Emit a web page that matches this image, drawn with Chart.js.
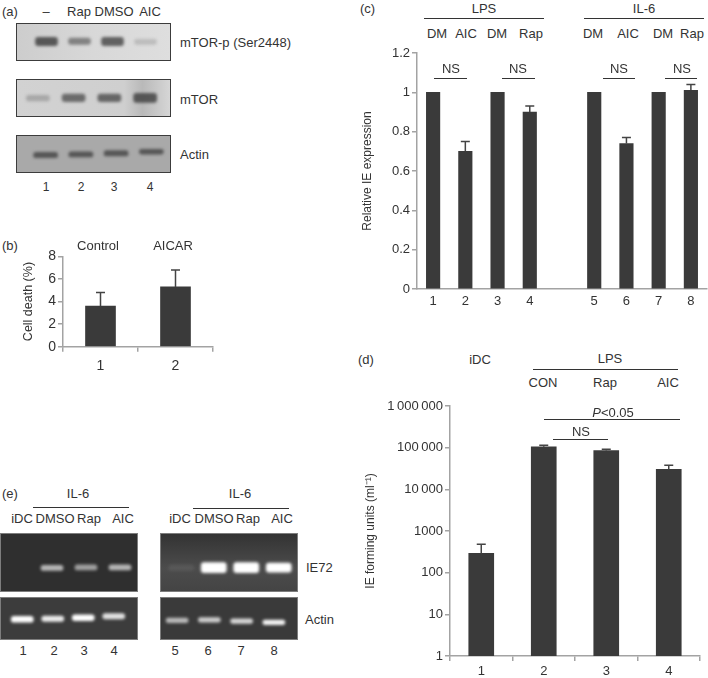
<!DOCTYPE html>
<html>
<head>
<meta charset="utf-8">
<script src="https://cdn.jsdelivr.net/npm/chart.js@4"></script>
<style>
  html, body { margin: 0; background: #fff; }
  #page { position: relative; width: 708px; height: 678px; overflow: hidden; font-family: "Liberation Sans", Arial, sans-serif; color: #333; }
  .t { position: absolute; font-size: 13px; white-space: nowrap; transform: translate(-50%, -50%); line-height: 1; }
  .l { transform: translate(0, -50%); }
  .rule { position: absolute; height: 1.3px; background: #333; }
  .plot { position: absolute; }
  .blot { position: absolute; box-sizing: border-box; overflow: hidden; }
  .blot canvas { filter: blur(1.5px); }
</style>
</head>
<body>
<div id="page"></div>
<script>
// Panel (b)
const bLabels = ['1', '2'];
const bValues = [3.6, 5.3];
const bErrTops = [4.8, 6.8];

// Panel (c)
const cLabels = ['1', '2', '3', '4', '', '5', '6', '7', '8'];
const cValues = [1, 0.7, 1, 0.9, null, 1, 0.74, 1, 1.01];
const cErrTops = [null, 0.75, null, 0.93, null, null, 0.77, null, 1.04];

// Panel (d)
const dLabels = ['1', '2', '3', '4'];
const dValues = [290, 105000, 85000, 30000];
const dErrTops = [480, 115000, 92000, 38000];
const dTickValues = [1, 10, 100, 1000, 10000, 100000, 1000000];
const dTickLabels = ['1', '10', '100', '1000', '10\u2009000', '100\u2009000', '1\u2009000\u2009000'];

// Blots: band extent (% of blot height from top) and band strength per lane
const lanes = ['1', '2', '3', '4'];
const mtorPBands = [[38, 62], [40, 58], [38, 62], [44, 58]];
const mtorPStrength = [0.75, 0.5, 0.7, 0.18];
const mtorBands = [[44, 60], [40, 62], [40, 62], [38, 64]];
const mtorStrength = [0.25, 0.62, 0.65, 0.72];
const actinABands = [[47, 62], [45, 60], [42, 57], [38, 52]];
const actinAStrength = [0.7, 0.7, 0.7, 0.7];
const ie72LeftBands = [[55, 63], [55, 64], [54, 63], [54, 63]];
const ie72LeftStrength = [0, 0.72, 0.6, 0.72];
const actinLeftBands = [[45, 59], [44, 57], [41, 55], [38, 51]];
const actinLeftStrength = [1, 0.9, 1, 0.85];
const ie72RightBands = [[54, 64], [50, 68], [50, 68], [51, 67]];
const ie72RightStrength = [0.07, 1, 1, 1];
const actinRightBands = [[49, 60], [48, 59], [51, 62], [54, 65]];
const actinRightStrength = [0.65, 0.75, 0.8, 0.95];

const page = document.getElementById('page');
const AXIS = '#a3a3a3';
const BAR = '#3a3a3a';
const FONT = 'Liberation Sans';

function text(str, x, y, opts = {}) {
    const el = document.createElement('div');
    el.className = 't' + (opts.left ? ' l' : '');
    el.style.left = x + 'px';
    el.style.top = y + 'px';
    if (opts.size) el.style.fontSize = opts.size + 'px';
    if (opts.html) el.innerHTML = str; else el.textContent = str;
    page.appendChild(el);
}

function rule(x1, x2, y) {
    const el = document.createElement('div');
    el.className = 'rule';
    el.style.left = x1 + 'px';
    el.style.width = (x2 - x1) + 'px';
    el.style.top = y + 'px';
    page.appendChild(el);
}

// error bars go up from the bar top, read from dataset.errTops
const errorBars = {
    id: 'errorBars',
    afterDatasetsDraw(chart) {
        const ds = chart.data.datasets[0];
        if (!ds.errTops) return;
        const ctx = chart.ctx;
        const y = chart.scales.y;
        ctx.save();
        ctx.strokeStyle = ds.errColor || '#444';
        ctx.lineWidth = 1.5;
        chart.getDatasetMeta(0).data.forEach((bar, i) => {
            if (ds.errTops[i] === null) return;
            const top = y.getPixelForValue(ds.errTops[i]);
            const bottom = y.getPixelForValue(ds.data[i]);
            ctx.beginPath();
            ctx.moveTo(bar.x, bottom);
            ctx.lineTo(bar.x, top);
            ctx.moveTo(bar.x - ds.errCap, top);
            ctx.lineTo(bar.x + ds.errCap, top);
            ctx.stroke();
        });
        ctx.restore();
    }
};

function barChart(cfg) {
    const wrap = document.createElement('div');
    wrap.className = 'plot';
    wrap.style.cssText = `left:${cfg.left}px;top:${cfg.top}px;width:${cfg.width}px;height:${cfg.height}px`;
    const canvas = document.createElement('canvas');
    canvas.width = cfg.width;
    canvas.height = cfg.height;
    wrap.appendChild(canvas);
    page.appendChild(wrap);

    const yScale = Object.assign({
        border: { color: AXIS, width: 1.5 },
        grid: { drawOnChartArea: false, color: AXIS, tickLength: 5, lineWidth: 1.5 },
        ticks: { color: '#333', font: { family: FONT, size: cfg.tickSize }, padding: 2, callback: v => String(v) },
        title: { display: true, text: cfg.yTitle, color: '#333', font: { family: FONT, size: cfg.titleSize }, padding: 0 },
        afterFit: s => { s.width = cfg.yWidth; }
    }, cfg.y);

    new Chart(canvas, {
        type: 'bar',
        data: {
            labels: cfg.labels,
            datasets: [{
                data: cfg.values,
                errTops: cfg.errTops,
                errCap: cfg.errCap,
                backgroundColor: BAR,
                barThickness: cfg.barWidth
            }]
        },
        options: {
            responsive: false,
            animation: false,
            layout: { padding: { top: 10, right: cfg.padRight } },
            plugins: { legend: { display: false }, tooltip: { enabled: false } },
            scales: {
                x: {
                    border: { color: AXIS, width: 1.5 },
                    grid: { drawOnChartArea: false, drawTicks: cfg.xTicks, color: AXIS, tickLength: 5, lineWidth: 1.5 },
                    ticks: { color: '#333', font: { family: FONT, size: cfg.tickSize }, padding: cfg.xPad, maxRotation: 0, autoSkip: false },
                    afterFit: s => { s.height = cfg.xHeight; }
                },
                y: yScale
            }
        },
        plugins: [errorBars]
    });
}

function blot(cfg) {
    const wrap = document.createElement('div');
    wrap.className = 'blot';
    wrap.style.cssText = `left:${cfg.left}px;top:${cfg.top}px;width:${cfg.width}px;height:${cfg.height}px;background:${cfg.bg};border:${cfg.border}`;
    const inner = cfg.width - cfg.borderWidth * 2;
    const innerH = cfg.height - cfg.borderWidth * 2;
    const canvas = document.createElement('canvas');
    canvas.width = inner;
    canvas.height = innerH;
    wrap.appendChild(canvas);
    page.appendChild(wrap);

    new Chart(canvas, {
        type: 'bar',
        data: {
            labels: lanes,
            datasets: [{
                data: cfg.bands,
                backgroundColor: cfg.strength.map(a => `rgba(${cfg.rgb},${a})`),
                barThickness: cfg.bandWidth,
                borderSkipped: false,
                borderRadius: 3
            }]
        },
        options: {
            responsive: false,
            animation: false,
            layout: { padding: { left: cfg.padL, right: cfg.padR } },
            plugins: { legend: { display: false }, tooltip: { enabled: false } },
            scales: {
                x: { display: false },
                y: { display: false, reverse: true, min: 0, max: 100 }
            }
        }
    });
}

// ---- (a) western blots
const westBorder = '1.5px solid #3c3c3c';
blot({ left: 16, top: 23, width: 155, height: 38, bg: 'linear-gradient(90deg,#cdcdcd,#d8d8d8 50%,#dedede)', border: westBorder, borderWidth: 1.5, rgb: '45,45,45', bandWidth: 22, padL: 13, padR: 7, bands: mtorPBands, strength: mtorPStrength });
blot({ left: 16, top: 79, width: 155, height: 38, bg: 'linear-gradient(90deg,#d2d2d2,#cfcfcf 70%,#b9b9b9 82%,#d6d6d6)', border: westBorder, borderWidth: 1.5, rgb: '45,45,45', bandWidth: 23, padL: 3, padR: 6, bands: mtorBands, strength: mtorStrength });
blot({ left: 16, top: 135, width: 155, height: 38, bg: '#a9a9a9', border: westBorder, borderWidth: 1.5, rgb: '50,50,50', bandWidth: 24, padL: 11, padR: 0, bands: actinABands, strength: actinAStrength });

// ---- (e) gels
const gelBorder = '1px solid #7d7d7d';
blot({ left: 0, top: 533, width: 138, height: 59, bg: '#2f2f2f', border: gelBorder, borderWidth: 1, rgb: '235,235,235', bandWidth: 22, padL: 0, padR: 0, bands: ie72LeftBands, strength: ie72LeftStrength });
blot({ left: 0, top: 597, width: 138, height: 43, bg: '#3c3c3c', border: gelBorder, borderWidth: 1, rgb: '255,255,255', bandWidth: 22, padL: 6, padR: 8, bands: actinLeftBands, strength: actinLeftStrength });
blot({ left: 160, top: 533, width: 138, height: 59, bg: 'linear-gradient(180deg,#333,#4c4c4c 60%,#444)', border: gelBorder, borderWidth: 1, rgb: '255,255,255', bandWidth: 25, padL: 4, padR: 2, bands: ie72RightBands, strength: ie72RightStrength });
blot({ left: 160, top: 597, width: 138, height: 43, bg: '#3a3a3a', border: gelBorder, borderWidth: 1, rgb: '255,255,255', bandWidth: 22, padL: 0, padR: 7, bands: actinRightBands, strength: actinRightStrength });

// ---- (b)
barChart({
    left: 21, top: 246, width: 195, height: 125,
    yWidth: 42, xHeight: 24.3, padRight: 3, xPad: 6, xTicks: true,
    labels: bLabels, values: bValues, errTops: bErrTops, errCap: 4.5, barWidth: 30,
    tickSize: 14, titleSize: 12.5, yTitle: 'Cell death (%)',
    y: { min: 0, max: 8 }
});

// ---- (c)
barChart({
    left: 360, top: 43, width: 348, height: 276,
    yWidth: 57, xHeight: 30, padRight: 1, xPad: 5, xTicks: false,
    labels: cLabels, values: cValues, errTops: cErrTops, errCap: 4.5, barWidth: 13.5,
    tickSize: 13, titleSize: 12, yTitle: 'Relative IE expression',
    y: { min: 0, max: 1.2 }
});

// ---- (d)
barChart({
    left: 363, top: 396, width: 341, height: 282,
    yWidth: 87, xHeight: 22, padRight: 4, xPad: 3, xTicks: true,
    labels: dLabels, values: dValues, errTops: dErrTops, errCap: 4.5, barWidth: 25,
    tickSize: 13, titleSize: 12, yTitle: 'IE forming units (ml\u207B\u00B9)',
    y: {
        type: 'logarithmic', min: 1, max: 1000000,
        afterBuildTicks: s => { s.ticks = dTickValues.map(v => ({ value: v, major: true })); },
        ticks: {
            color: '#333', font: { family: FONT, size: 13 }, padding: 2, autoSkip: false,
            callback: v => dTickLabels[dTickValues.indexOf(v)]
        }
    }
});

// ---- text and brackets
// (a)
text('(a)', 2, 11, { left: true });
text('\u2013', 46, 11);
text('Rap', 79, 11);
text('DMSO', 114, 11);
text('AIC', 150, 11);
text('mTOR-p (Ser2448)', 180, 42, { left: true });
text('mTOR', 180, 99, { left: true });
text('Actin', 180, 154, { left: true });
[46, 81, 114, 150].forEach((x, i) => text(lanes[i], x, 187, { size: 12 }));

// (b)
text('(b)', 2, 245, { left: true });
text('Control', 98, 245);
text('AICAR', 173, 245);

// (c)
text('(c)', 360, 8, { left: true });
text('LPS', 484, 8);
rule(424, 544, 18);
text('IL-6', 644, 8);
rule(584, 704, 18);
[['DM', 437], ['AIC', 466], ['DM', 497], ['Rap', 531], ['DM', 593], ['AIC', 628], ['DM', 663], ['Rap', 692]]
    .forEach(([s, x]) => text(s, x, 33));
[[451, 434, 467], [518, 502, 535], [619, 603, 635], [682, 665, 697]].forEach(([x, a, b]) => {
    text('NS', x, 68);
    rule(a, b, 77.5);
});

// (d)
text('(d)', 358, 359, { left: true });
text('iDC', 480, 359);
text('LPS', 610, 358);
rule(533, 678, 368.5);
text('CON', 543, 382);
text('Rap', 605, 382);
text('AIC', 668, 382);
text('<i>P</i>&lt;0.05', 613, 412, { html: true });
rule(544, 680, 418.5);
text('NS', 581, 431);
rule(553, 608, 438.5);

// (e)
text('(e)', 2, 493, { left: true });
text('IL-6', 78, 493);
rule(33, 129, 506.5);
text('IL-6', 240, 493);
rule(193, 289, 508);
[['iDC', 22], ['DMSO', 55], ['Rap', 89], ['AIC', 123], ['iDC', 180], ['DMSO', 214], ['Rap', 248], ['AIC', 282]]
    .forEach(([s, x]) => text(s, x, 518));
text('IE72', 306, 567, { left: true });
text('Actin', 305, 619, { left: true });
[[1, 23], [2, 54], [3, 84], [4, 114], [5, 175], [6, 208], [7, 241], [8, 274]]
    .forEach(([n, x]) => text(String(n), x, 650));
</script>
</body>
</html>
